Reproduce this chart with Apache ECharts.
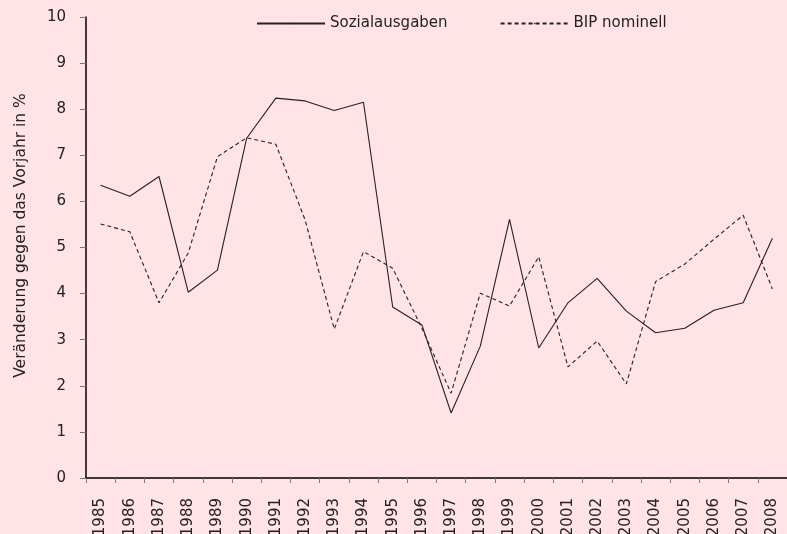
<!DOCTYPE html>
<html>
	<head>
		<meta charset="UTF-8">
		<title>Sozialausgaben und BIP</title>
		<script src="https://cdn.jsdelivr.net/npm/echarts@6/dist/echarts.min.js"></script>
		<style>
			html, body { margin: 0; padding: 0; background: #ffe3e6; }
			#chart { width: 787px; height: 534px; }
		</style>
	</head>
	<body>
		<div id="chart"></div>
		<script>
			// Jahre
			var years = ['1985', '1986', '1987', '1988', '1989', '1990', '1991', '1992', '1993', '1994', '1995', '1996',
				'1997', '1998', '1999', '2000', '2001', '2002', '2003', '2004', '2005', '2006', '2007', '2008'];
			// Sozialausgaben, Veränderung in %
			var sozialausgaben = [6.35, 6.11, 6.54, 4.03, 4.51, 7.37, 8.24, 8.18, 7.97, 8.15, 3.71, 3.32,
				1.41, 2.86, 5.61, 2.82, 3.80, 4.33, 3.62, 3.15, 3.25, 3.64, 3.80, 5.20];
			// BIP nominell, Veränderung in %
			var bipNominell = [5.51, 5.34, 3.80, 4.88, 6.97, 7.38, 7.24, 5.60, 3.23, 4.91, 4.55, 3.25,
				1.84, 4.01, 3.73, 4.80, 2.41, 2.97, 2.04, 4.26, 4.64, 5.18, 5.70, 4.10];

			var myChart = echarts.init(document.getElementById('chart'));
			var fontName = '"DejaVu Sans", sans-serif';

			var option = {
				backgroundColor: '#ffe3e6',
				animation: false,
				textStyle: { fontFamily: fontName, color: '#222' },
				legend: {
					top: 11,
					left: 251,
					itemWidth: 68,
					itemHeight: 2,
					itemGap: 52,
					textStyle: { fontSize: 15, color: '#222', fontFamily: fontName },
					data: ['Sozialausgaben', 'BIP nominell']
				},
				// feste Zeichenfläche, Beschriftungen dürfen unten abgeschnitten werden
				grid: { left: 86, right: 0, top: 17, bottom: 56, outerBoundsMode: 'none', containLabel: false },
				xAxis: {
					type: 'category',
					data: years,
					boundaryGap: true,
					axisLine: { lineStyle: { color: '#000', width: 1.5 } },
					axisTick: { show: true, length: 5, lineStyle: { color: '#777' } },
					axisLabel: { rotate: 90, fontSize: 15, color: '#222', margin: 20, interval: 0 }
				},
				yAxis: {
					type: 'value',
					min: 0,
					max: 10,
					interval: 1,
					name: 'Veränderung gegen das Vorjahr in %',
					nameLocation: 'middle',
					nameGap: 57,
					nameTextStyle: { fontSize: 15.5, color: '#222', padding: [0, 0, 0, 24] },
					splitLine: { show: false },
					axisLine: { show: true, lineStyle: { color: '#000', width: 1.5 } },
					axisTick: { show: true, length: 6, lineStyle: { color: '#777' } },
					axisLabel: { fontSize: 15, color: '#222', margin: 20 }
				},
				series: [{
					name: 'Sozialausgaben',
					type: 'line',
					data: sozialausgaben,
					symbol: 'none',
					lineStyle: { color: '#222', width: 1.1 },
					itemStyle: { color: '#222' }
				}, {
					name: 'BIP nominell',
					type: 'line',
					data: bipNominell,
					symbol: 'none',
					lineStyle: { color: '#222', width: 1.1, type: [4, 3] },
					itemStyle: { color: '#222' }
				}]
			};

			myChart.setOption(option);
		</script>
	</body>
</html>
